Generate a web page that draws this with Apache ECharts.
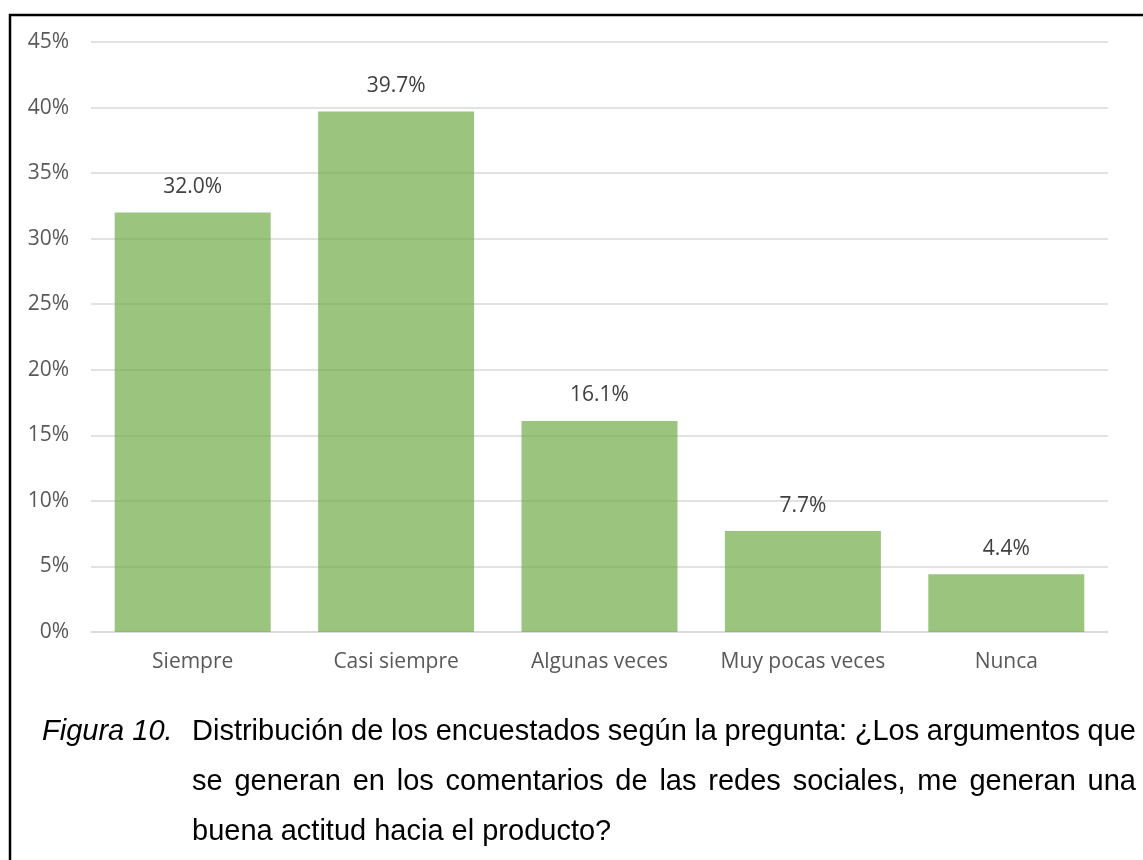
<!DOCTYPE html>
<html>
<head>
<meta charset="utf-8">
<script src="https://cdn.jsdelivr.net/npm/echarts@6/dist/echarts.min.js"></script>
<style>
html,body{margin:0;padding:0;background:#fff;}
#chart{width:1143px;height:860px;}
</style>
</head>
<body>
<div id="chart"></div>
<script>
const categories = ['Siempre', 'Casi siempre', 'Algunas veces', 'Muy pocas veces', 'Nunca'];
const values = [32.0, 39.7, 16.1, 7.7, 4.4];
const yTicks = { min: 0, max: 45, interval: 5 };
const captionLabel = 'Figura 10.';
const captionLines = [
  'Distribución de los encuestados según la pregunta: ¿Los argumentos que',
  'se generan en los comentarios de las redes sociales, me generan una',
  'buena actitud hacia el producto?'
];

const chart = echarts.init(document.getElementById('chart'), null, { renderer: 'canvas' });

const capFont = 29;
const capFamily = "'Liberation Sans', Arial, sans-serif";
const capLeft = 192, capRight = 1136;
const lineMids = [732, 782, 832];

const ctx = document.createElement('canvas').getContext('2d');
ctx.font = capFont + 'px ' + capFamily;
const graphics = [];
graphics.push({
  type: 'polyline',
  shape: { points: [[10, 870], [10, 15], [1150, 15]] },
  style: { stroke: '#000', lineWidth: 2.5, fill: null }
});
graphics.push({
  type: 'text', x: 42, y: lineMids[0],
  style: { text: captionLabel, font: 'italic ' + capFont + 'px ' + capFamily, fill: '#000', verticalAlign: 'middle' }
});
captionLines.forEach((line, i) => {
  const words = line.split(' ');
  const justify = i < captionLines.length - 1;
  const widths = words.map(w => ctx.measureText(w).width);
  const total = widths.reduce((a, b) => a + b, 0);
  const gap = justify ? (capRight - capLeft - total) / (words.length - 1) : ctx.measureText(' ').width;
  let x = capLeft;
  words.forEach((w, j) => {
    graphics.push({
      type: 'text', x: x, y: lineMids[i],
      style: { text: w, font: capFont + 'px ' + capFamily, fill: '#000', verticalAlign: 'middle' }
    });
    x += widths[j] + gap;
  });
});

chart.setOption({
  animation: false,
  backgroundColor: '#fff',
  grid: { left: 91, right: 35, top: 42, bottom: 228, containLabel: false },
  xAxis: {
    type: 'category',
    data: categories,
    axisLine: { show: true, lineStyle: { color: '#d9d9d9', width: 1.5 } },
    axisTick: { show: false },
    axisLabel: { interval: 0, color: '#595959', fontSize: 21, fontFamily: "'Open Sans', sans-serif", margin: 20 }
  },
  yAxis: {
    type: 'value',
    min: yTicks.min, max: yTicks.max, interval: yTicks.interval,
    axisLine: { show: false },
    axisTick: { show: false },
    splitLine: { lineStyle: { color: '#d9d9d9', width: 1.5 } },
    axisLabel: { formatter: '{value}%', color: '#595959', fontSize: 21, fontFamily: "'Open Sans', sans-serif", margin: 22 }
  },
  series: [{
    type: 'bar',
    data: values,
    barCategoryGap: '23.3%',
    z: 1,
    itemStyle: { color: 'rgba(112,173,71,0.7)' },
    label: {
      show: true, position: 'top', distance: 15,
      formatter: p => p.value.toFixed(1) + '%',
      color: '#404040', fontSize: 21, fontFamily: "'Open Sans', sans-serif"
    }
  }],
  graphic: graphics
});
</script>
</body>
</html>
